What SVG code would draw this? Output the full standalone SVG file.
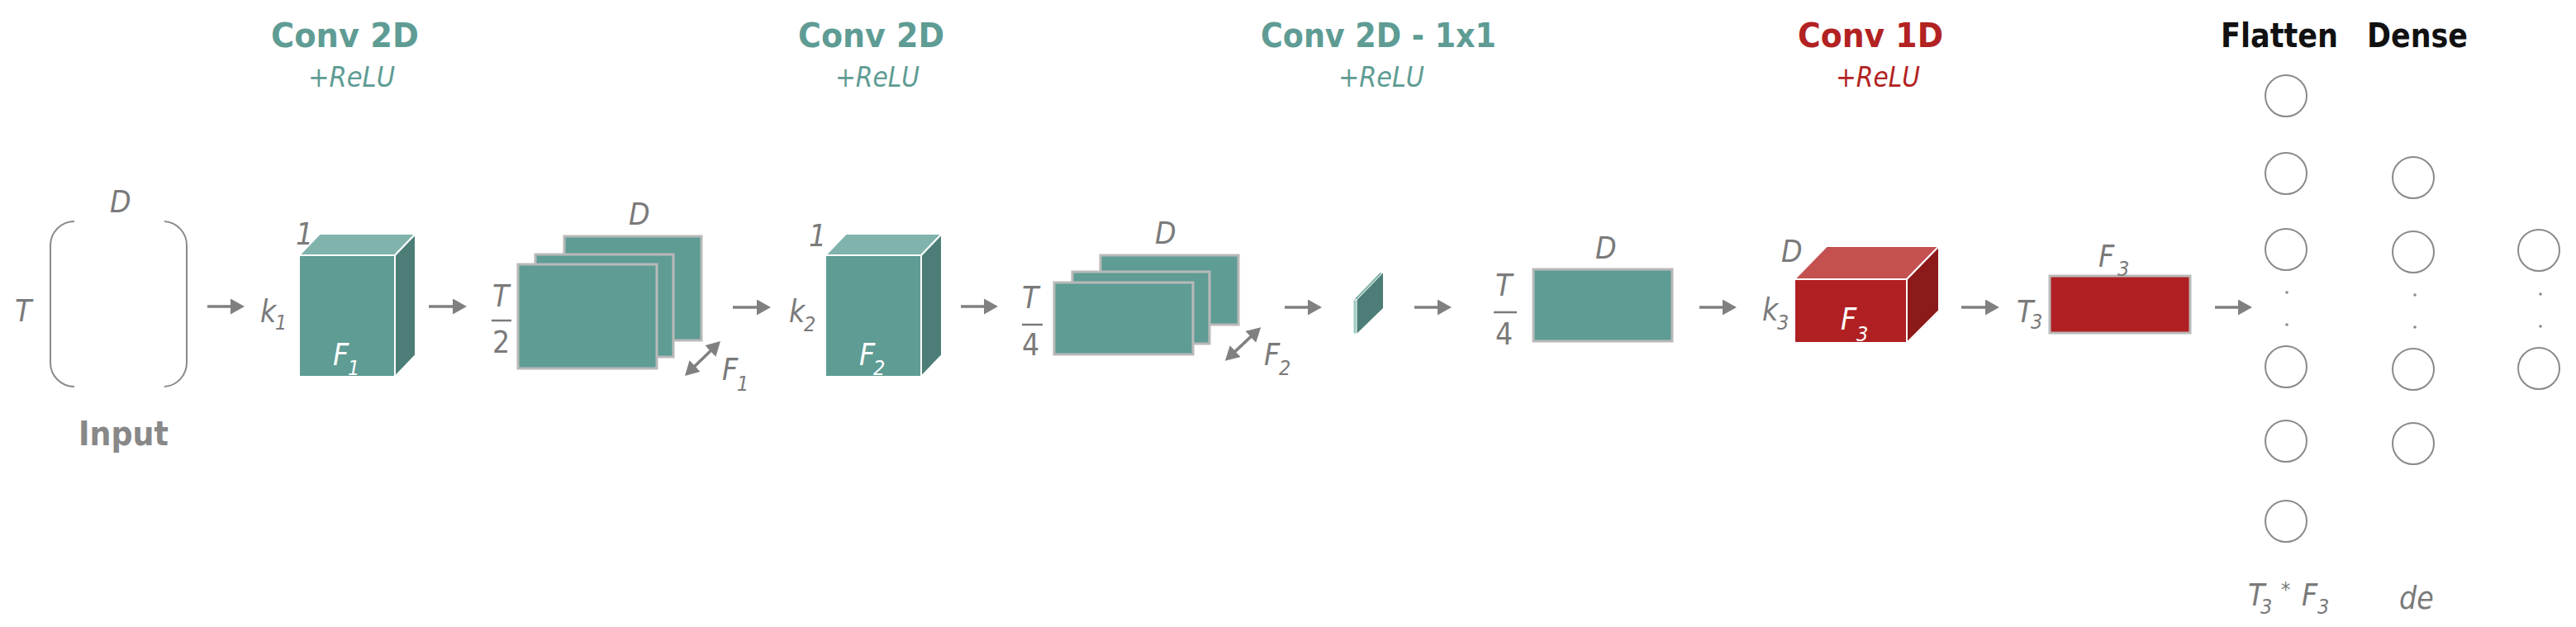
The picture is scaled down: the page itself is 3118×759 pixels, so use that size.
<svg xmlns="http://www.w3.org/2000/svg" width="3118" height="759" viewBox="0 0 3118 759">
<style>
text{font-family:"Liberation Sans Narrow","DejaVu Sans Condensed","Liberation Sans",sans-serif;font-stretch:condensed}
.ttl{font-weight:bold;font-size:40px}
.teal{fill:#5e9c94}
.red{fill:#b22222}
.blk{fill:#111}
.relu{font-style:italic;font-size:34px}
.lbl{font-style:italic;font-size:37px;fill:#7a7a7a}
.up{font-size:37px;fill:#7a7a7a}
.sub{font-style:italic;font-size:25px;fill:#7a7a7a}
.w{fill:#ffffff}
.fr{fill:#5e9c94;stroke:#ffffff;stroke-width:2}
.tp{fill:#80b3ab;stroke:#ffffff;stroke-width:2}
.rt{fill:#4c7e77;stroke:#ffffff;stroke-width:2}
.rfr{fill:#b02023;stroke:#ffffff;stroke-width:2}
.rtp{fill:#c45050;stroke:#ffffff;stroke-width:2}
.rrt{fill:#8c1a1b;stroke:#ffffff;stroke-width:2}
.map{fill:#5e9c94;stroke:#b9b9b9;stroke-width:3}
.rmap{fill:#b02023;stroke:#b9b9b9;stroke-width:3}
.bar{stroke:#7a7a7a;stroke-width:2.5}
.neu{fill:none;stroke:#8a8a8a;stroke-width:2}
.dot{fill:#8a8a8a}
.con{fill:none;stroke:#808080;stroke-width:3.5}
</style>
<defs>
<marker id="ah" viewBox="0 0 17 19" refX="5" refY="9.5" markerWidth="17" markerHeight="19" markerUnits="userSpaceOnUse" orient="auto-start-reverse">
<path d="M0,0 L17,9.5 L0,19 z" fill="#808080"/>
</marker>
</defs>

<g id="titles">
<text class="ttl teal" x="328" y="57" textLength="179" lengthAdjust="spacingAndGlyphs">Conv 2D</text>
<text class="relu teal" x="373" y="105" textLength="105" lengthAdjust="spacingAndGlyphs">+ReLU</text>
<text class="ttl teal" x="966" y="57" textLength="177" lengthAdjust="spacingAndGlyphs">Conv 2D</text>
<text class="relu teal" x="1011" y="105" textLength="102" lengthAdjust="spacingAndGlyphs">+ReLU</text>
<text class="ttl teal" x="1526" y="57" textLength="285" lengthAdjust="spacingAndGlyphs">Conv 2D - 1x1</text>
<text class="relu teal" x="1620" y="105" textLength="104" lengthAdjust="spacingAndGlyphs">+ReLU</text>
<text class="ttl red" x="2176" y="57" textLength="176" lengthAdjust="spacingAndGlyphs">Conv 1D</text>
<text class="relu red" x="2222" y="105" textLength="102" lengthAdjust="spacingAndGlyphs">+ReLU</text>
<text class="ttl blk" x="2688" y="57" textLength="142" lengthAdjust="spacingAndGlyphs">Flatten</text>
<text class="ttl blk" x="2865" y="57" textLength="122" lengthAdjust="spacingAndGlyphs">Dense</text>
</g>

<g id="input">
<path class="neu" d="M90,268 A29,29 0 0 0 61,297 L61,439 A29,29 0 0 0 90,468"/>
<path class="neu" d="M199,268 A29,29 0 0 1 226,297 L226,439 A29,29 0 0 1 199,468"/>
<text class="lbl" x="133" y="257">D</text>
<text class="lbl" x="18" y="389">T</text>
<text class="ttl" x="95" y="539" fill="#888888" textLength="109" lengthAdjust="spacingAndGlyphs">Input</text>
</g>

<g id="conv1">
<rect class="fr" x="362" y="309" width="116" height="147"/>
<polygon class="tp" points="362,309 387,283 503,283 478,309"/>
<polygon class="rt" points="478,309 503,283 503,430 478,456"/>
<text class="lbl" x="358" y="296">1</text>
<text class="lbl" x="315" y="390" font-size="32">k</text>
<text class="sub" x="333" y="399">1</text>
<text class="lbl w" x="403" y="442">F</text>
<text class="sub w" x="421" y="454">1</text>
</g>

<g id="map1">
<rect class="map" x="683" y="286" width="166" height="126"/>
<rect class="map" x="648" y="308" width="167" height="124"/>
<rect class="map" x="627" y="320" width="168" height="126"/>
<text class="up" x="596" y="371" font-style="italic">T</text>
<line class="bar" x1="595" y1="388" x2="619" y2="388"/>
<text class="up" x="596" y="427">2</text>
<text class="lbl" x="761" y="272">D</text>
<text class="lbl" x="874" y="460">F</text>
<text class="sub" x="892" y="473">1</text>
</g>

<g id="conv2">
<rect class="fr" x="999" y="309" width="116" height="147"/>
<polygon class="tp" points="999,309 1024,283 1140,283 1115,309"/>
<polygon class="rt" points="1115,309 1140,283 1140,430 1115,456"/>
<text class="lbl" x="979" y="298">1</text>
<text class="lbl" x="955" y="390" font-size="32">k</text>
<text class="sub" x="973" y="401">2</text>
<text class="lbl w" x="1040" y="442">F</text>
<text class="sub w" x="1057" y="454">2</text>
</g>

<g id="map2">
<rect class="map" x="1332" y="309" width="167" height="84"/>
<rect class="map" x="1298" y="329" width="166" height="87"/>
<rect class="map" x="1276" y="342" width="168" height="87"/>
<text class="up" x="1237" y="373" font-style="italic">T</text>
<line class="bar" x1="1237" y1="393" x2="1262" y2="393"/>
<text class="up" x="1237" y="430">4</text>
<text class="lbl" x="1398" y="295">D</text>
<text class="lbl" x="1530" y="442">F</text>
<text class="sub" x="1548" y="454">2</text>
</g>

<g id="conv3">
<polygon fill="#4c7e77" points="1642,363 1674,330 1674,373 1642,404"/>
<polygon fill="#80b3ab" stroke="#ffffff" stroke-width="1" points="1638,363 1670,330 1674,330 1642,363"/>
<rect x="1638" y="363" width="4" height="41" fill="#9cc8c1" stroke="#ffffff" stroke-width="1"/>
</g>

<g id="map3">
<rect class="map" x="1856" y="326" width="168" height="87"/>
<text class="up" x="1810" y="358" font-style="italic">T</text>
<line class="bar" x1="1808" y1="378" x2="1836" y2="378"/>
<text class="up" x="1810" y="417">4</text>
<text class="lbl" x="1931" y="313">D</text>
</g>

<g id="conv4">
<rect class="rfr" x="2172" y="338" width="136" height="77"/>
<polygon class="rtp" points="2172,338 2211,298 2347,298 2308,338"/>
<polygon class="rrt" points="2308,338 2347,298 2347,376 2308,415"/>
<text class="lbl" x="2156" y="317">D</text>
<text class="lbl" x="2133" y="388" font-size="32">k</text>
<text class="sub" x="2151" y="399">3</text>
<text class="lbl w" x="2228" y="399">F</text>
<text class="sub w" x="2247" y="413">3</text>
</g>

<g id="map4">
<rect class="rmap" x="2481" y="334" width="170" height="69"/>
<text class="lbl" x="2441" y="390">T</text>
<text class="sub" x="2458" y="398">3</text>
<text class="lbl" x="2540" y="323">F</text>
<text class="sub" x="2563" y="334">3</text>
</g>

<g id="flatten">
<circle class="neu" cx="2767" cy="116" r="25"/>
<circle class="neu" cx="2767" cy="210" r="25"/>
<circle class="neu" cx="2767" cy="302" r="25"/>
<circle class="dot" cx="2768" cy="354" r="1.8"/>
<circle class="dot" cx="2768" cy="393" r="1.8"/>
<circle class="neu" cx="2767" cy="444" r="25"/>
<circle class="neu" cx="2767" cy="534" r="25"/>
<circle class="neu" cx="2767" cy="631" r="25"/>
<text class="lbl" x="2721" y="733">T</text>
<text class="sub" x="2736" y="743">3</text>
<text class="sub" x="2761" y="722">*</text>
<text class="lbl" x="2786" y="733">F</text>
<text class="sub" x="2805" y="743">3</text>
</g>

<g id="dense">
<circle class="neu" cx="2921" cy="215" r="25"/>
<circle class="neu" cx="2921" cy="305" r="25"/>
<circle class="dot" cx="2923" cy="357" r="1.8"/>
<circle class="dot" cx="2923" cy="396" r="1.8"/>
<circle class="neu" cx="2921" cy="447" r="25"/>
<circle class="neu" cx="2921" cy="537" r="25"/>
<text class="lbl" x="2904" y="737">de</text>
</g>

<g id="output">
<circle class="neu" cx="3073" cy="303" r="25"/>
<circle class="dot" cx="3075" cy="356" r="1.8"/>
<circle class="dot" cx="3075" cy="395" r="1.8"/>
<circle class="neu" cx="3073" cy="446" r="25"/>
</g>

<g id="connectors">
<path class="con" marker-end="url(#ah)" d="M251,371 H284"/>
<path class="con" marker-end="url(#ah)" d="M519,371 H553"/>
<path class="con" marker-end="url(#ah)" d="M887,372 H921"/>
<path class="con" marker-end="url(#ah)" d="M1163,371 H1196"/>
<path class="con" marker-end="url(#ah)" d="M1555,372 H1588"/>
<path class="con" marker-end="url(#ah)" d="M1712,372 H1745"/>
<path class="con" marker-end="url(#ah)" d="M2057,372 H2090"/>
<path class="con" marker-end="url(#ah)" d="M2374,372 H2408"/>
<path class="con" marker-end="url(#ah)" d="M2681,372 H2714"/>
<path class="con" marker-start="url(#ah)" marker-end="url(#ah)" d="M837.6,446.6 L863.4,421.4"/>
<path class="con" marker-start="url(#ah)" marker-end="url(#ah)" d="M1491.6,428.6 L1517.4,404.4"/>
</g>
</svg>
